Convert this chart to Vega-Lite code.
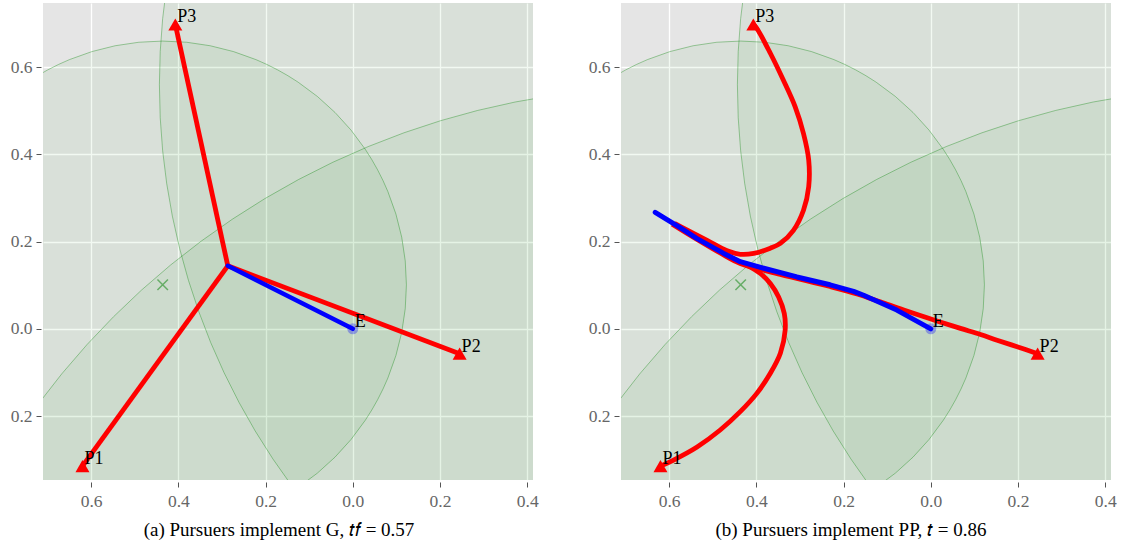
{
  "$schema": "https://vega.github.io/schema/vega-lite/v6.json",
  "background": "white",
  "padding": {"left": 10, "top": 3, "right": 5, "bottom": 5},
  "bounds": "flush",
  "spacing": 88,
  "config": {
    "font": "Liberation Serif",
    "view": {"fill": "#E5E5E5", "stroke": null},
    "style": {"guide-label": {"font": "Liberation Serif", "fontSize": 17, "fill": "#666666"}, "group-title": {"font": "Liberation Serif", "fontSize": 18.5, "fontWeight": "normal"}},
    "axis": {
      "domain": false,
      "title": null,
      "gridColor": "#FFFFFF",
      "gridWidth": 1.3,
      "gridOpacity": 1,
      "tickColor": "#555555",
      "tickSize": 5,
      "tickWidth": 1,
      "labelColor": "#666666",
      "labelFont": "Liberation Serif",
      "labelFontSize": 17,
      "labelPadding": 4,
      "offset": 2
    },
    "title": {"font": "Liberation Serif", "fontSize": 18.5, "fontWeight": "normal", "color": "#000000"}
  },
  "datasets": {
    "circles": [
      {"name": "P2", "x": -0.436, "y": 0.101, "r": 0.559},
      {"name": "P1", "x": 1.102, "y": 0.560, "r": 1.5456},
      {"name": "P3", "x": 0.7236, "y": -1.2444, "r": 1.7993}
    ],
    "centers": [{"x": -0.436, "y": 0.101}],
    "pursuers": [
      {"name": "P1", "x": -0.62, "y": -0.315},
      {"name": "P2", "x": 0.245, "y": -0.057},
      {"name": "P3", "x": -0.407, "y": 0.698}
    ],
    "labels": [
      {"name": "P1", "x": -0.62, "y": -0.315},
      {"name": "P2", "x": 0.245, "y": -0.057},
      {"name": "P3", "x": -0.407, "y": 0.698},
      {"name": "E", "x": 0.0, "y": 0.0}
    ],
    "evader": [{"name": "E", "x": 0.0, "y": 0.0}],
    "pathsG": [
      {"p": "P1", "i": 0, "x": -0.62, "y": -0.315},
      {"p": "P1", "i": 1, "x": -0.2867, "y": 0.1445},
      {"p": "P2", "i": 0, "x": 0.245, "y": -0.057},
      {"p": "P2", "i": 1, "x": -0.2867, "y": 0.1445},
      {"p": "P3", "i": 0, "x": -0.407, "y": 0.698},
      {"p": "P3", "i": 1, "x": -0.2867, "y": 0.1445}
    ],
    "evG": [
      {"i": 0, "x": 0.0, "y": 0.0},
      {"i": 1, "x": -0.2867, "y": 0.1445}
    ],
    "pathsPP": [
      {"p": "P1", "i": 0, "x": -0.620, "y": -0.315},
      {"p": "P1", "i": 1, "x": -0.590, "y": -0.301},
      {"p": "P1", "i": 2, "x": -0.536, "y": -0.271},
      {"p": "P1", "i": 3, "x": -0.483, "y": -0.232},
      {"p": "P1", "i": 4, "x": -0.437, "y": -0.190},
      {"p": "P1", "i": 5, "x": -0.399, "y": -0.148},
      {"p": "P1", "i": 6, "x": -0.368, "y": -0.102},
      {"p": "P1", "i": 7, "x": -0.345, "y": -0.056},
      {"p": "P1", "i": 8, "x": -0.334, "y": -0.003},
      {"p": "P1", "i": 9, "x": -0.336, "y": 0.035},
      {"p": "P1", "i": 10, "x": -0.349, "y": 0.073},
      {"p": "P1", "i": 11, "x": -0.368, "y": 0.104},
      {"p": "P1", "i": 12, "x": -0.391, "y": 0.127},
      {"p": "P1", "i": 13, "x": -0.422, "y": 0.146},
      {"p": "P1", "i": 14, "x": -0.452, "y": 0.160},
      {"p": "P1", "i": 15, "x": -0.490, "y": 0.181},
      {"p": "P1", "i": 16, "x": -0.536, "y": 0.208},
      {"p": "P1", "i": 17, "x": -0.584, "y": 0.238},
      {"p": "P2", "i": 0, "x": 0.245, "y": -0.057},
      {"p": "P2", "i": 1, "x": 0.198, "y": -0.041},
      {"p": "P2", "i": 2, "x": 0.152, "y": -0.026},
      {"p": "P2", "i": 3, "x": 0.114, "y": -0.013},
      {"p": "P2", "i": 4, "x": 0.068, "y": 0.001},
      {"p": "P2", "i": 5, "x": 0.014, "y": 0.018},
      {"p": "P2", "i": 6, "x": -0.062, "y": 0.043},
      {"p": "P2", "i": 7, "x": -0.116, "y": 0.062},
      {"p": "P2", "i": 8, "x": -0.169, "y": 0.080},
      {"p": "P2", "i": 9, "x": -0.231, "y": 0.097},
      {"p": "P2", "i": 10, "x": -0.345, "y": 0.125},
      {"p": "P2", "i": 11, "x": -0.437, "y": 0.150},
      {"p": "P2", "i": 12, "x": -0.483, "y": 0.174},
      {"p": "P2", "i": 13, "x": -0.536, "y": 0.205},
      {"p": "P2", "i": 14, "x": -0.593, "y": 0.240},
      {"p": "P3", "i": 0, "x": -0.407, "y": 0.698},
      {"p": "P3", "i": 1, "x": -0.399, "y": 0.689},
      {"p": "P3", "i": 2, "x": -0.368, "y": 0.632},
      {"p": "P3", "i": 3, "x": -0.338, "y": 0.570},
      {"p": "P3", "i": 4, "x": -0.311, "y": 0.509},
      {"p": "P3", "i": 5, "x": -0.292, "y": 0.448},
      {"p": "P3", "i": 6, "x": -0.280, "y": 0.387},
      {"p": "P3", "i": 7, "x": -0.280, "y": 0.326},
      {"p": "P3", "i": 8, "x": -0.292, "y": 0.272},
      {"p": "P3", "i": 9, "x": -0.315, "y": 0.226},
      {"p": "P3", "i": 10, "x": -0.345, "y": 0.196},
      {"p": "P3", "i": 11, "x": -0.368, "y": 0.185},
      {"p": "P3", "i": 12, "x": -0.406, "y": 0.173},
      {"p": "P3", "i": 13, "x": -0.437, "y": 0.171},
      {"p": "P3", "i": 14, "x": -0.467, "y": 0.179},
      {"p": "P3", "i": 15, "x": -0.513, "y": 0.203},
      {"p": "P3", "i": 16, "x": -0.575, "y": 0.235},
      {"p": "P3", "i": 17, "x": -0.588, "y": 0.242}
    ],
    "evPP": [
      {"i": 0, "x": 0.0, "y": 0.0},
      {"i": 1, "x": -0.078, "y": 0.043},
      {"i": 2, "x": -0.154, "y": 0.077},
      {"i": 3, "x": -0.177, "y": 0.086},
      {"i": 4, "x": -0.231, "y": 0.101},
      {"i": 5, "x": -0.307, "y": 0.119},
      {"i": 6, "x": -0.383, "y": 0.139},
      {"i": 7, "x": -0.437, "y": 0.154},
      {"i": 8, "x": -0.475, "y": 0.173},
      {"i": 9, "x": -0.536, "y": 0.207},
      {"i": 10, "x": -0.575, "y": 0.232},
      {"i": 11, "x": -0.632, "y": 0.267}
    ]
  },
  "hconcat": [
    {
      "width": 490,
      "height": 477,
      "title": {"text": "(a) Pursuers implement G, 𝑡𝑓 = 0.57", "orient": "bottom", "anchor": "middle", "offset": 11, "dx": -9, "font": "Liberation Serif", "fontSize": 19, "fontWeight": "normal", "color": "#000000"},
      "encoding": {
        "x": {"field": "x", "type": "quantitative", "scale": {"domain": [-0.7105, 0.4133], "nice": false, "zero": false}, "axis": {"values": [-0.6, -0.4, -0.2, 0, 0.2, 0.4], "labelExpr": "format(abs(datum.value), '.1f')", "labelFont": "Liberation Serif", "labelFontSize": 17.5, "labelColor": "#666666", "labelPadding": 5, "tickSize": 5, "tickColor": "#555555", "offset": 2}},
        "y": {"field": "y", "type": "quantitative", "scale": {"domain": [-0.3467, 0.7473], "nice": false, "zero": false}, "axis": {"values": [-0.2, 0, 0.2, 0.4, 0.6], "labelExpr": "format(abs(datum.value), '.1f')", "labelFont": "Liberation Serif", "labelFontSize": 17.5, "labelColor": "#666666", "labelPadding": 4, "tickSize": 5, "tickColor": "#555555", "offset": 2}}
      },
      "layer": [
        {
          "data": {"name": "circles"},
          "mark": {"type": "point", "shape": "circle", "filled": true, "fill": "#008000", "fillOpacity": 0.05, "stroke": "#008000", "strokeOpacity": 0.35, "strokeWidth": 1, "opacity": 1, "clip": true},
          "encoding": {"size": {"field": "r", "type": "quantitative", "scale": {"type": "pow", "exponent": 2, "domain": [0, 1], "range": [0, 760384]}, "legend": null}}
        },
        {
          "data": {"name": "centers"},
          "mark": {"type": "point", "shape": "M-1,-1L1,1M-1,1L1,-1", "filled": false, "stroke": "#008000", "strokeOpacity": 0.5, "strokeWidth": 1.5, "size": 110, "opacity": 1}
        },
        {
          "data": {"name": "pathsG"},
          "mark": {"type": "line", "color": "#FF0000", "strokeWidth": 4.8, "strokeCap": "butt", "strokeJoin": "round", "clip": true},
          "encoding": {"detail": {"field": "p"}, "order": {"field": "i", "type": "quantitative"}}
        },
        {
          "data": {"name": "evG"},
          "mark": {"type": "line", "color": "#0000FF", "strokeWidth": 4.5, "strokeCap": "round", "strokeJoin": "round"},
          "encoding": {"order": {"field": "i", "type": "quantitative"}}
        },
        {
          "data": {"name": "evader"},
          "mark": {"type": "point", "shape": "circle", "filled": true, "fill": "#0000FF", "fillOpacity": 0.3, "strokeWidth": 0, "size": 121, "opacity": 1}
        },
        {
          "data": {"name": "pursuers"},
          "mark": {"type": "point", "shape": "triangle-up", "filled": true, "fill": "#FF0000", "strokeWidth": 0, "size": 196, "opacity": 1}
        },
        {
          "data": {"name": "labels"},
          "mark": {"type": "text", "align": "left", "baseline": "alphabetic", "dx": 2, "dy": -2, "font": "Liberation Serif", "fontSize": 18, "color": "#000000"},
          "encoding": {"text": {"field": "name"}}
        }
      ]
    },
    {
      "width": 490,
      "height": 477,
      "title": {"text": "(b) Pursuers implement PP, 𝑡 = 0.86", "orient": "bottom", "anchor": "middle", "offset": 11, "dx": -15, "font": "Liberation Serif", "fontSize": 19, "fontWeight": "normal", "color": "#000000"},
      "encoding": {
        "x": {"field": "x", "type": "quantitative", "scale": {"domain": [-0.7105, 0.4133], "nice": false, "zero": false}, "axis": {"values": [-0.6, -0.4, -0.2, 0, 0.2, 0.4], "labelExpr": "format(abs(datum.value), '.1f')", "labelFont": "Liberation Serif", "labelFontSize": 17.5, "labelColor": "#666666", "labelPadding": 5, "tickSize": 5, "tickColor": "#555555", "offset": 2}},
        "y": {"field": "y", "type": "quantitative", "scale": {"domain": [-0.3467, 0.7473], "nice": false, "zero": false}, "axis": {"values": [-0.2, 0, 0.2, 0.4, 0.6], "labelExpr": "format(abs(datum.value), '.1f')", "labelFont": "Liberation Serif", "labelFontSize": 17.5, "labelColor": "#666666", "labelPadding": 4, "tickSize": 5, "tickColor": "#555555", "offset": 2}}
      },
      "layer": [
        {
          "data": {"name": "circles"},
          "mark": {"type": "point", "shape": "circle", "filled": true, "fill": "#008000", "fillOpacity": 0.05, "stroke": "#008000", "strokeOpacity": 0.35, "strokeWidth": 1, "opacity": 1, "clip": true},
          "encoding": {"size": {"field": "r", "type": "quantitative", "scale": {"type": "pow", "exponent": 2, "domain": [0, 1], "range": [0, 760384]}, "legend": null}}
        },
        {
          "data": {"name": "centers"},
          "mark": {"type": "point", "shape": "M-1,-1L1,1M-1,1L1,-1", "filled": false, "stroke": "#008000", "strokeOpacity": 0.5, "strokeWidth": 1.5, "size": 110, "opacity": 1}
        },
        {
          "data": {"name": "pathsPP"},
          "mark": {"type": "line", "color": "#FF0000", "strokeWidth": 4.8, "strokeCap": "butt", "strokeJoin": "round", "interpolate": "catmull-rom", "clip": true},
          "encoding": {"detail": {"field": "p"}, "order": {"field": "i", "type": "quantitative"}}
        },
        {
          "data": {"name": "evPP"},
          "mark": {"type": "line", "color": "#0000FF", "strokeWidth": 5, "strokeCap": "round", "strokeJoin": "round"},
          "encoding": {"order": {"field": "i", "type": "quantitative"}}
        },
        {
          "data": {"name": "evader"},
          "mark": {"type": "point", "shape": "circle", "filled": true, "fill": "#0000FF", "fillOpacity": 0.3, "strokeWidth": 0, "size": 121, "opacity": 1}
        },
        {
          "data": {"name": "pursuers"},
          "mark": {"type": "point", "shape": "triangle-up", "filled": true, "fill": "#FF0000", "strokeWidth": 0, "size": 196, "opacity": 1}
        },
        {
          "data": {"name": "labels"},
          "mark": {"type": "text", "align": "left", "baseline": "alphabetic", "dx": 2, "dy": -2, "font": "Liberation Serif", "fontSize": 18, "color": "#000000"},
          "encoding": {"text": {"field": "name"}}
        }
      ]
    }
  ]
}
